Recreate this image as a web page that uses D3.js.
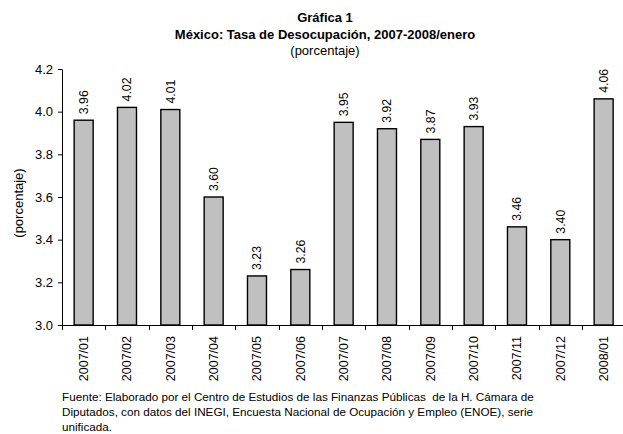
<!DOCTYPE html>
<html><head><meta charset="utf-8">
<script src="https://cdn.jsdelivr.net/npm/d3@7"></script>
<style>body{margin:0;background:#fff}svg{display:block}text{font-family:"Liberation Sans",Arial,sans-serif;fill:#000}</style>
</head><body>
<svg id="c" width="623" height="434"></svg>
<script>
const categories = ["2007/01","2007/02","2007/03","2007/04","2007/05","2007/06","2007/07","2007/08","2007/09","2007/10","2007/11","2007/12","2008/01"];
const values = [3.96,4.02,4.01,3.60,3.23,3.26,3.95,3.92,3.87,3.93,3.46,3.40,4.06];
const yTicks = [3.0,3.2,3.4,3.6,3.8,4.0,4.2];
const titleLines = ["Gráfica 1","México: Tasa de Desocupación, 2007-2008/enero","(porcentaje)"];
const yLabel = "(porcentaje)";
const sourceLines = ["Fuente: Elaborado por el Centro de Estudios de las Finanzas Públicas  de la H. Cámara de","Diputados, con datos del INEGI, Encuesta Nacional de Ocupación y Empleo (ENOE), serie","unificada."];

const svg = d3.select("#c");
const pL = 62, pR = 625.3, pT = 69, pB = 325;
const x = d3.scaleBand().domain(categories).range([pL, pR]).paddingInner(0).paddingOuter(0);
const y = d3.scaleLinear().domain([3.0, 4.2]).range([pB, pT]);

// titles
svg.append("text").attr("x",325).attr("y",22).attr("text-anchor","middle").style("font-weight","bold").style("font-size","13px").text(titleLines[0]);
svg.append("text").attr("x",325).attr("y",38.5).attr("text-anchor","middle").style("font-weight","bold").style("font-size","13px").text(titleLines[1]);
svg.append("text").attr("x",325).attr("y",54.5).attr("text-anchor","middle").style("font-size","13px").text(titleLines[2]);

// bars
const bw = 19;
svg.append("g").selectAll("rect").data(values).join("rect")
  .attr("x",(d,i)=>x(categories[i]) + x.bandwidth()/2 - bw/2)
  .attr("y",d=>y(d))
  .attr("width",bw)
  .attr("height",d=>pB - y(d))
  .attr("fill","#c0c0c0").attr("stroke","#000").attr("stroke-width",1.4);

// value labels
svg.append("g").selectAll("text").data(values).join("text")
  .attr("transform",(d,i)=>`translate(${x(categories[i]) + x.bandwidth()/2},${y(d)-6}) rotate(-90)`)
  .attr("dy","0.35em").attr("text-anchor","start").style("font-size","12.3px")
  .text(d=>d.toFixed(2));

// y axis
const ya = svg.append("g").attr("transform",`translate(${pL},0)`)
  .call(d3.axisLeft(y).tickValues(yTicks).tickFormat(d3.format(".1f")).tickSize(4).tickSizeOuter(0));
ya.selectAll("text").style("font-size","13px").attr("x",-9);
ya.select(".domain").attr("stroke","#000");
ya.selectAll(".tick line").attr("stroke","#000");

// x axis
const xa = svg.append("g").attr("transform",`translate(0,${pB})`)
  .call(d3.axisBottom(x).tickSize(0).tickSizeOuter(0));
xa.select(".domain").attr("d",`M${pL},0.5H${pR}`).attr("stroke","#000");
xa.selectAll("text").attr("transform","rotate(-90)").attr("text-anchor","end")
  .attr("x",-11).attr("y",0).attr("dy","0.35em").style("font-size","12.5px");
// boundary ticks
const bounds = categories.map(c=>x(c)).concat([pR]);
xa.append("g").selectAll("line").data(bounds).join("line")
  .attr("x1",d=>Math.round(d)+0.5).attr("x2",d=>Math.round(d)+0.5).attr("y1",0).attr("y2",5).attr("stroke","#000");

// y label
svg.append("text").attr("transform","translate(18,203) rotate(-90)").attr("text-anchor","middle").attr("dy","0.35em").style("font-size","13px").text(yLabel);

// source
svg.append("g").selectAll("text").data(sourceLines).join("text")
  .attr("x",62).attr("y",(d,i)=>401+i*15).style("font-size","11.7px").style("white-space","pre").text(d=>d);
</script>
</body></html>
